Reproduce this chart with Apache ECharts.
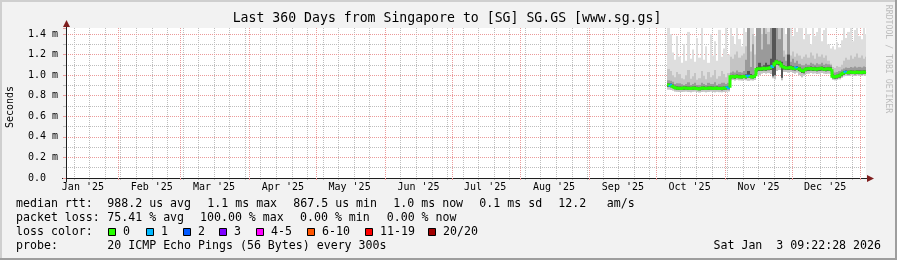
<!DOCTYPE html>
<html><head><meta charset="utf-8">
<script src="https://cdn.jsdelivr.net/npm/echarts@6/dist/echarts.min.js"></script>
<style>html,body{margin:0;padding:0;background:#f2f2f2}#c{width:897px;height:260px}</style>
</head><body><div id="c"></div>
<script>
// ---------- data ----------
const titleText = 'Last 360 Days from Singapore to [SG] SG.GS [www.sg.gs]';
const yAxisTitle = 'Seconds';
const watermark = 'RRDTOOL / TOBI OETIKER';
const monthLabels = ["Jan '25","Feb '25","Mar '25","Apr '25","May '25","Jun '25","Jul '25","Aug '25","Sep '25","Oct '25","Nov '25","Dec '25"];
const firstDay = [2025, 9, 6];           // first day with data (Oct 6 2025)
const medianMs = [
 0.905,0.902,0.893,0.880,0.875,0.872,0.870,0.874,0.876,0.872,
 0.870,0.873,0.875,0.871,0.868,0.872,0.874,0.870,0.873,0.876,
 0.872,0.870,0.874,0.871,0.869,0.873,0.875,0.878,
 0.984,0.986,0.982,0.988,0.985,0.983,0.987,0.984,0.990,0.986,0.983,0.988,
 1.055,1.062,1.060,1.066,1.062,1.068,1.072,1.085,1.110,1.130,1.120,1.090,1.078,1.072,1.070,1.075,1.068,1.064,1.070,1.062,
 1.045,1.040,1.058,1.062,1.065,1.060,1.063,1.058,1.062,1.066,1.060,1.057,1.062,1.058,
 0.990,0.982,0.986,0.995,1.010,
 1.022,1.028,1.025,1.030,1.027,1.025,1.030,1.028,1.026,1.030,1.027];
const lossCount = [
 0,1,0,0,0,0,0,0,0,0, 0,0,0,0,0,0,0,0,0,0, 0,0,0,0,0,0,0,1,
 0,0,0,0,0,0,0,0,1,0,0,0,
 0,0,0,0,0,0,0,1,0,0,0,0,0,0,0,0,0,0,1,0,
 0,0,0,0,0,0,0,0,0,0,0,0,0,0,
 0,0,0,0,0,
 0,1,0,0,0,0,0,0,0,0,0];
const minMs = [
 0.860,0.855,0.850,0.842,0.838,0.836,0.835,0.838,0.840,0.836,
 0.834,0.838,0.840,0.835,0.832,0.836,0.838,0.834,0.837,0.840,
 0.836,0.834,0.838,0.835,0.833,0.837,0.839,0.842,
 0.950,0.952,0.948,0.954,0.950,0.948,0.952,0.950,0.945,0.950,0.948,0.953,
 1.010,1.000,1.015,1.020,1.015,1.020,1.010,0.970,0.960,1.040,1.050,0.950,1.030,1.030,1.025,1.030,1.020,1.015,1.025,1.000,
 0.980,0.995,1.010,1.015,1.020,1.015,1.018,1.010,1.015,1.020,1.015,1.010,1.015,1.010,
 0.955,0.950,0.955,0.960,0.975,
 0.990,0.995,0.992,0.998,0.995,0.992,0.998,0.995,0.993,0.998,0.995];
const p25Ms = [
 0.885,0.882,0.875,0.862,0.858,0.856,0.855,0.858,0.860,0.856,
 0.855,0.858,0.860,0.856,0.853,0.857,0.859,0.855,0.858,0.861,
 0.857,0.855,0.859,0.856,0.854,0.858,0.860,0.863,
 0.968,0.970,0.966,0.972,0.969,0.967,0.971,0.968,0.972,0.969,0.967,0.972,
 1.035,1.040,1.040,1.046,1.042,1.048,1.050,0.990,1.000,1.100,1.095,0.975,1.055,1.052,1.050,1.055,1.048,1.044,1.050,1.040,
 1.020,1.018,1.038,1.042,1.045,1.040,1.043,1.038,1.042,1.046,1.040,1.037,1.042,1.038,
 0.970,0.965,0.968,0.976,0.990,
 1.005,1.010,1.008,1.012,1.010,1.008,1.012,1.010,1.008,1.012,1.010];
const p60Ms = [
 0.920,0.918,0.910,0.897,0.892,0.889,0.887,0.891,0.893,0.889,
 0.887,0.890,0.892,0.888,0.885,0.889,0.891,0.887,0.890,0.893,
 0.889,0.887,0.891,0.888,0.886,0.890,0.892,0.895,
 1.002,1.004,1.000,1.006,1.003,1.001,1.005,1.008,1.040,1.010,1.001,1.006,
 1.078,1.120,1.085,1.095,1.120,1.100,1.160,1.460,1.460,1.150,1.140,1.130,1.095,1.090,1.200,1.094,1.086,1.082,1.088,1.080,
 1.062,1.058,1.076,1.080,1.083,1.078,1.081,1.076,1.080,1.084,1.078,1.075,1.080,1.076,
 1.008,1.000,1.004,1.013,1.028,
 1.040,1.046,1.043,1.048,1.045,1.043,1.048,1.046,1.044,1.048,1.045];
const p75Ms = [
 0.950,0.945,0.935,0.915,0.920,0.920,0.912,0.905,0.915,0.930,
 0.905,0.915,0.925,0.905,0.905,0.925,0.915,0.905,0.925,0.915,
 0.915,0.930,0.905,0.915,0.925,0.925,0.915,0.925,
 1.025,1.035,1.025,1.045,1.030,1.025,1.040,1.150,1.460,1.080,1.300,1.050,
 1.460,1.460,1.250,1.460,1.400,1.300,1.460,1.460,1.460,1.460,1.350,1.460,1.180,1.140,1.460,1.130,1.160,1.120,1.140,1.110,
 1.095,1.095,1.110,1.100,1.120,1.110,1.100,1.115,1.105,1.120,1.100,1.110,1.105,1.095,
 1.035,1.025,1.030,1.040,1.055,
 1.065,1.075,1.070,1.080,1.075,1.085,1.075,1.080,1.075,1.085,1.080];
const p90Ms = [
 1.060,1.040,1.000,0.980,1.030,1.010,0.970,0.960,1.000,1.050,
 0.965,0.990,1.020,0.955,0.970,1.040,0.995,0.960,1.030,0.980,
 1.000,1.050,0.965,0.990,1.040,1.010,0.980,1.020,
 1.180,1.160,1.200,1.230,1.170,1.190,1.210,1.280,1.460,1.230,1.400,1.200,
 1.460,1.460,1.400,1.460,1.460,1.420,1.460,1.460,1.460,1.460,1.460,1.460,1.240,1.200,1.460,1.190,1.230,1.180,1.210,1.190,
 1.160,1.180,1.200,1.170,1.220,1.190,1.160,1.210,1.180,1.200,1.170,1.190,1.140,1.110,
 1.080,1.070,1.090,1.080,1.100,
 1.140,1.170,1.150,1.190,1.160,1.180,1.210,1.170,1.190,1.160,1.180];
const maxMs = [
 1.460,1.400,1.220,1.150,1.380,1.180,1.120,1.300,1.140,1.420,
 1.160,1.250,1.130,1.360,1.170,1.460,1.150,1.280,1.120,1.400,
 1.190,1.330,1.140,1.440,1.180,1.260,1.460,1.200,
 1.460,1.380,1.300,1.460,1.350,1.280,1.460,1.420,1.460,1.460,1.460,1.380,
 1.460,1.460,1.460,1.460,1.460,1.460,1.460,1.460,1.460,1.460,1.460,1.460,1.460,1.400,1.460,1.460,1.380,1.460,1.420,1.460,
 1.460,1.350,1.460,1.400,1.300,1.460,1.380,1.420,1.460,1.330,1.440,1.460,1.300,1.260,
 1.280,1.250,1.320,1.270,1.340,
 1.460,1.360,1.420,1.460,1.330,1.440,1.460,1.380,1.350,1.460,1.400];
const rttLine = ['median rtt:', '988.2 us avg', '1.1 ms max', '867.5 us min', '1.0 ms now', '0.1 ms sd', '12.2', 'am/s'];
const lossLine = ['packet loss:', '75.41 % avg', '100.00 % max', '0.00 % min', '0.00 % now'];
const lossTitle = 'loss color:';
const lossLabels = ['0','1','2','3','4-5','6-10','11-19','20/20'];
const lossLimits = [0,1,2,3,5,10,19,20];
const lossColors = ['#26ff00','#00b8ff','#0059ff','#7e00ff','#ff00ff','#ff5500','#ff0000','#a10000'];
const probeLine = ['probe:', '20 ICMP Echo Pings (56 Bytes) every 300s'];
const stampText = 'Sat Jan  3 09:22:28 2026';

// ---------- layout / helpers ----------
const DAY = 86400000;
const startTs = Date.UTC(2025,0,8,9,22,28);
const endTs = Date.UTC(2026,0,3,9,22,28);
const yMax = 1.4583;
const MONO = "'DejaVu Sans Mono', monospace";
const day0 = Date.UTC(firstDay[0], firstDay[1], firstDay[2]);
const data = medianMs.map((m, i) => [day0 + i*DAY, m, minMs[i], p25Ms[i], p60Ms[i], p75Ms[i], p90Ms[i], maxMs[i], lossCount[i]]);
const monthStarts = []; for (let m = 1; m <= 12; m++) monthStarts.push(Date.UTC(2025, m, 1));
const monthMids = monthLabels.map((_, m) => Date.UTC(2025, m, 16));
const sundays = []; for (let t = Date.UTC(2025,0,12); t < endTs; t += 7*DAY) sundays.push(t);
function lossColor(n){ for (let k = 0; k < lossLimits.length; k++) if (n <= lossLimits[k]) return lossColors[k]; return lossColors[lossColors.length-1]; }

function smokeItem(params, api){
  const t = api.value(0);
  const xa = Math.round(api.coord([t,0])[0]);
  const xb = Math.round(api.coord([Math.min(t+DAY,endTs),0])[0]);
  const yv = v => api.coord([t, Math.min(v, yMax)])[1];
  const band = (lo, hi, fill) => ({type:'rect', shape:{x:xa, y:yv(hi), width:xb-xa, height:yv(lo)-yv(hi)}, style:{fill}});
  return {type:'group', children:[
    band(api.value(2), api.value(7), '#dedede'),
    band(api.value(2), api.value(6), '#c4c4c4'),
    band(api.value(3), api.value(5), '#9a9a9a'),
    band(api.value(3), api.value(4), '#555555')
  ]};
}
function medianItem(params, api){
  const i = params.dataIndex;
  const t = api.value(0);
  const xa = Math.round(api.coord([t,0])[0]);
  const xb = Math.round(api.coord([Math.min(t+DAY,endTs),0])[0]);
  const y = api.coord([t, api.value(1)])[1];
  const pts = [];
  if (i > 0) pts.push([xa, api.coord([t, medianMs[i-1]])[1]]);
  pts.push([xa, y], [xb, y]);
  return {type:'polyline', shape:{points:pts}, style:{stroke:lossColor(api.value(8)), lineWidth:3, fill:null, lineJoin:'miter'}};
}

const txt = (x, y, s, opt) => ({type:'text', x, y, style:Object.assign({text:s, font:'11.6px '+MONO, fill:'#000', textVerticalAlign:'middle'}, opt||{})});
const graphics = [
  {type:'rect', shape:{x:0,y:0,width:897,height:2}, style:{fill:'#cfcfcf'}},
  {type:'rect', shape:{x:0,y:0,width:2,height:260}, style:{fill:'#cfcfcf'}},
  {type:'rect', shape:{x:0,y:258,width:897,height:2}, style:{fill:'#9e9e9e'}},
  {type:'rect', shape:{x:895,y:0,width:2,height:260}, style:{fill:'#9e9e9e'}},
  {type:'text', x:447, y:19, style:{text:titleText, font:'13.2px '+MONO, fill:'#000', textAlign:'center', textVerticalAlign:'middle'}},
  {type:'text', x:10.5, y:107, rotation:Math.PI/2, style:{text:yAxisTitle, font:'10px '+MONO, fill:'#000', textAlign:'center', textVerticalAlign:'middle'}},
  {type:'text', x:888, y:59, rotation:-Math.PI/2, style:{text:watermark, font:'8.2px '+MONO, fill:'#bdbdbd', textAlign:'center', textVerticalAlign:'middle'}},
  {type:'line', shape:{x1:866,y1:178.5,x2:869,y2:178.5}, style:{stroke:'#1f1f1f', lineWidth:1}},
  {type:'line', shape:{x1:62,y1:178.5,x2:66,y2:178.5}, style:{stroke:'#1f1f1f', lineWidth:1}},
  {type:'polygon', shape:{points:[[867,175],[874,178.5],[867,182]]}, style:{fill:'#801f1f'}},
  {type:'line', shape:{x1:66.5,y1:28,x2:66.5,y2:25}, style:{stroke:'#1f1f1f', lineWidth:1}},
  {type:'line', shape:{x1:66.5,y1:178,x2:66.5,y2:182}, style:{stroke:'#1f1f1f', lineWidth:1}},
  {type:'polygon', shape:{points:[[63,27],[66.5,20],[70,27]]}, style:{fill:'#801f1f'}}
];
const rttX = [16, 107.3, 207.3, 293.3, 393.3, 479.3, 558.3, 606.7];
rttLine.forEach((s,k) => graphics.push(txt(rttX[k], 204, s)));
const lossX = [16, 107.3, 200, 300, 386.7];
lossLine.forEach((s,k) => graphics.push(txt(lossX[k], 218, s)));
graphics.push(txt(16, 232, lossTitle));
const boxX = [108, 146, 183, 219, 256, 307, 365, 428];
lossLabels.forEach((s,k) => {
  graphics.push({type:'rect', shape:{x:boxX[k]+0.5, y:228.5, width:7, height:7}, style:{fill:lossColors[k], stroke:'#000', lineWidth:1}});
  graphics.push(txt(boxX[k]+15, 232, s));
});
graphics.push(txt(16, 246, probeLine[0]));
graphics.push(txt(107.3, 246, probeLine[1]));
graphics.push(txt(881, 246, stampText, {textAlign:'right'}));

const majorGrid = '#eb9a9a';
const minorGrid = '#bdbdbd';
const chart = echarts.init(document.getElementById('c'), null, {renderer:'canvas'});
chart.setOption({
  backgroundColor:'#f2f2f2',
  animation:false,
  grid:{left:66, top:28, width:800, height:150, show:true, backgroundColor:'#ffffff', borderWidth:0},
  xAxis:[
    {type:'value', min:startTs, max:endTs, position:'bottom', z:3,
     axisLine:{show:true, lineStyle:{color:'#1f1f1f', width:1}},
     axisTick:{show:true, length:2, customValues:monthStarts, lineStyle:{color:majorGrid}},
     axisLabel:{show:true, customValues:monthMids, margin:4, fontFamily:MONO, fontSize:10, color:'#000',
       formatter: v => monthLabels[new Date(v).getUTCMonth()]},
     splitLine:{show:true, lineStyle:{color:majorGrid, width:1, type:[1,1]}}},
    {type:'value', min:startTs, max:endTs, position:'bottom', z:1,
     axisLine:{show:false},
     axisTick:{show:true, length:2, customValues:sundays, lineStyle:{color:minorGrid}},
     axisLabel:{show:false},
     splitLine:{show:true, lineStyle:{color:minorGrid, width:1, type:[1,1]}}}
  ],
  yAxis:[
    {type:'value', min:0, max:yMax, interval:0.2, position:'left', z:3,
     axisLine:{show:true, lineStyle:{color:'#1f1f1f', width:1}},
     axisTick:{show:true, length:3, lineStyle:{color:majorGrid}},
     axisLabel:{margin:8, fontFamily:MONO, fontSize:10, color:'#000',
       formatter: v => { const k = Math.round(v*10); if (Math.abs(v*10-k) > 1e-6 || k % 2) return ''; return k === 0 ? '0.0  ' : (k/10).toFixed(1)+' m'; }},
     splitLine:{show:true, showMinLine:false, showMaxLine:false, lineStyle:{color:majorGrid, width:1, type:[1,1]}}},
    {type:'value', min:0, max:yMax, interval:0.1, position:'left', z:1,
     axisLine:{show:false},
     axisTick:{show:true, length:3, lineStyle:{color:minorGrid}},
     axisLabel:{show:false},
     splitLine:{show:true, showMinLine:false, showMaxLine:false, lineStyle:{color:minorGrid, width:1, type:[1,1]}}}
  ],
  series:[
    {type:'custom', name:'smoke', data:data, encode:{x:0, y:1}, renderItem:smokeItem, z:3, silent:true},
    {type:'custom', name:'median', data:data, encode:{x:0, y:1}, renderItem:medianItem, z:4, silent:true}
  ],
  graphic:graphics
});
</script></body></html>
